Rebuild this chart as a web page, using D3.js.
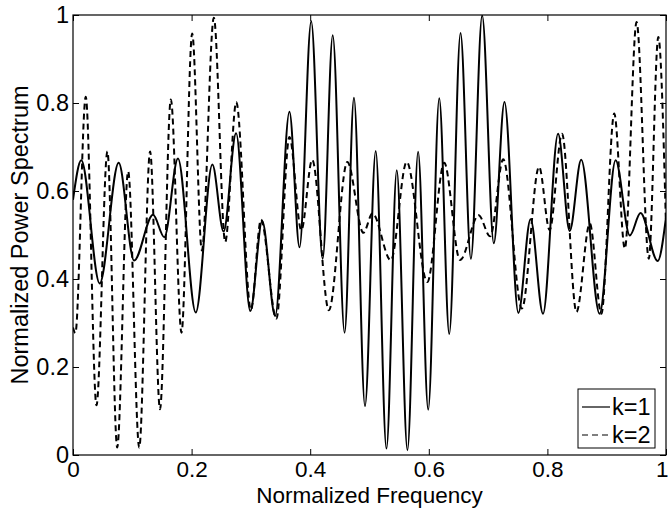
<!DOCTYPE html>
<html>
<head>
<meta charset="utf-8">
<script src="https://cdn.jsdelivr.net/npm/d3@7"></script>
<style>
  body { margin: 0; background: #fff; }
  svg { display: block; font-family: "Liberation Sans", Arial, sans-serif; }
</style>
</head>
<body>
<div id="chart"></div>
<script>
// peaks and troughs (x = normalized frequency)
const freqK1 = [0, 0.014, 0.045, 0.077, 0.103, 0.135, 0.154, 0.177, 0.207, 0.235, 0.254, 0.275, 0.299, 0.319, 0.341, 0.365, 0.382, 0.4017, 0.421, 0.438, 0.458, 0.4738, 0.4924, 0.5105, 0.5286, 0.546, 0.564, 0.582, 0.599, 0.6176, 0.6345, 0.6535, 0.671, 0.690, 0.7096, 0.7276, 0.751, 0.7716, 0.7926, 0.818, 0.8376, 0.857, 0.888, 0.915, 0.939, 0.957, 0.986, 1];
const powK1 = [0.58, 0.67, 0.39, 0.664, 0.442, 0.546, 0.495, 0.674, 0.324, 0.66, 0.508, 0.731, 0.327, 0.532, 0.316, 0.78, 0.472, 0.986, 0.446, 0.954, 0.278, 0.812, 0.111, 0.691, 0.0145, 0.647, 0.011, 0.689, 0.103, 0.811, 0.275, 0.959, 0.446, 0.999, 0.481, 0.802, 0.323, 0.536, 0.321, 0.73, 0.509, 0.671, 0.321, 0.67, 0.499, 0.55, 0.441, 0.54];

const freqK2 = [0, 0.004, 0.0215, 0.0396, 0.058, 0.0745, 0.093, 0.1117, 0.13, 0.1467, 0.165, 0.183, 0.201, 0.2173, 0.2375, 0.2567, 0.2753, 0.300, 0.317, 0.343, 0.365, 0.385, 0.4034, 0.4315, 0.4626, 0.4897, 0.505, 0.536, 0.5627, 0.5975, 0.626, 0.6526, 0.684, 0.7035, 0.7255, 0.757, 0.786, 0.8037, 0.8247, 0.849, 0.8715, 0.891, 0.9127, 0.9306, 0.9504, 0.971, 0.987, 1];
const powK2 = [0.29, 0.277, 0.814, 0.113, 0.69, 0.017, 0.645, 0.017, 0.69, 0.104, 0.808, 0.278, 0.958, 0.465, 0.994, 0.484, 0.802, 0.33, 0.535, 0.31, 0.723, 0.511, 0.671, 0.329, 0.666, 0.505, 0.549, 0.4425, 0.666, 0.393, 0.664, 0.443, 0.545, 0.497, 0.672, 0.333, 0.655, 0.511, 0.73, 0.325, 0.526, 0.321, 0.776, 0.469, 0.984, 0.446, 0.95, 0.52];

const xTicks = [0, 0.2, 0.4, 0.6, 0.8, 1];
const yTicks = [0, 0.2, 0.4, 0.6, 0.8, 1];
const seriesNames = ["k=1", "k=2"];

const width = 668, height = 508;
const margin = { top: 15, right: 2, bottom: 53, left: 73 };
const plotW = width - margin.left - margin.right;
const plotH = height - margin.top - margin.bottom;
const fontSize = 23.5;   // y axis + legend
const xFontSize = 22.5;  // bottom labels are packed a bit tighter

const svg = d3.select("#chart")
  .append("svg")
  .attr("width", width)
  .attr("height", height);

const g = svg.append("g")
  .attr("transform", `translate(${margin.left},${margin.top})`);

const x = d3.scaleLinear().domain([0, 1]).range([0, plotW]);
const y = d3.scaleLinear().domain([0, 1]).range([plotH, 0]);

// clip curves to the axes box
svg.append("defs").append("clipPath").attr("id", "clip")
  .append("rect").attr("width", plotW).attr("height", plotH);

const fmt = d => String(d);

// axes, ticks pointing inwards like matlab
const styleAxis = size => sel => {
  sel.select(".domain").remove();
  sel.selectAll("line").attr("stroke", "#000");
  sel.selectAll("text").attr("font-size", size).attr("fill", "#000");
};

const xAxis = g.append("g")
  .attr("transform", `translate(0,${plotH})`)
  .call(d3.axisBottom(x).tickValues(xTicks).tickFormat(fmt).tickSize(-6).tickPadding(6.5))
  .call(styleAxis(xFontSize));

// last label sits on the window edge, keep it inside
xAxis.selectAll(".tick text")
  .filter(d => d === 1)
  .attr("text-anchor", "end")
  .attr("dx", 2);

g.append("g")
  .call(d3.axisTop(x).tickValues(xTicks).tickFormat("").tickSize(-6))
  .call(styleAxis(fontSize));

g.append("g")
  .call(d3.axisLeft(y).tickValues(yTicks).tickFormat(fmt).tickSize(-6).tickPadding(4))
  .call(styleAxis(fontSize));

g.append("g")
  .attr("transform", `translate(${plotW},0)`)
  .call(d3.axisRight(y).tickValues(yTicks).tickFormat("").tickSize(-6))
  .call(styleAxis(fontSize));

// the two spectra
const line = d3.line()
  .x(d => x(d[0]))
  .y(d => y(d[1]))
  .curve(d3.curveMonotoneX);

const curves = g.append("g").attr("clip-path", "url(#clip)");

curves.append("path")
  .datum(d3.zip(freqK1, powK1))
  .attr("fill", "none")
  .attr("stroke", "#000")
  .attr("stroke-width", 2)
  .attr("d", line);

curves.append("path")
  .datum(d3.zip(freqK2, powK2))
  .attr("fill", "none")
  .attr("stroke", "#000")
  .attr("stroke-width", 2)
  .attr("stroke-dasharray", "6,4")
  .attr("d", line);

// frame
g.append("rect")
  .attr("width", plotW)
  .attr("height", plotH)
  .attr("fill", "none")
  .attr("stroke", "#000")
  .attr("stroke-width", 1.2);

// axis labels
svg.append("text")
  .attr("x", margin.left + plotW / 2)
  .attr("y", 503)
  .attr("text-anchor", "middle")
  .attr("font-size", xFontSize)
  .text("Normalized Frequency");

svg.append("text")
  .attr("transform", `translate(28,${margin.top + plotH / 2}) rotate(-90)`)
  .attr("text-anchor", "middle")
  .attr("font-size", fontSize)
  .text("Normalized Power Spectrum");

// legend
const legend = svg.append("g").attr("transform", "translate(578,389)");

legend.append("rect")
  .attr("width", 77)
  .attr("height", 59)
  .attr("fill", "#fff")
  .attr("stroke", "#000")
  .attr("stroke-width", 1);

seriesNames.forEach((name, i) => {
  const row = legend.append("g").attr("transform", `translate(0,${18 + i * 28})`);
  row.append("line")
    .attr("x1", 4).attr("x2", 32)
    .attr("stroke", "#000")
    .attr("stroke-width", 1.2)
    .attr("stroke-dasharray", i === 1 ? "6,4" : null);
  row.append("text")
    .attr("x", 34)
    .attr("dy", "0.35em")
    .attr("font-size", fontSize)
    .text(name);
});
</script>
</body>
</html>
